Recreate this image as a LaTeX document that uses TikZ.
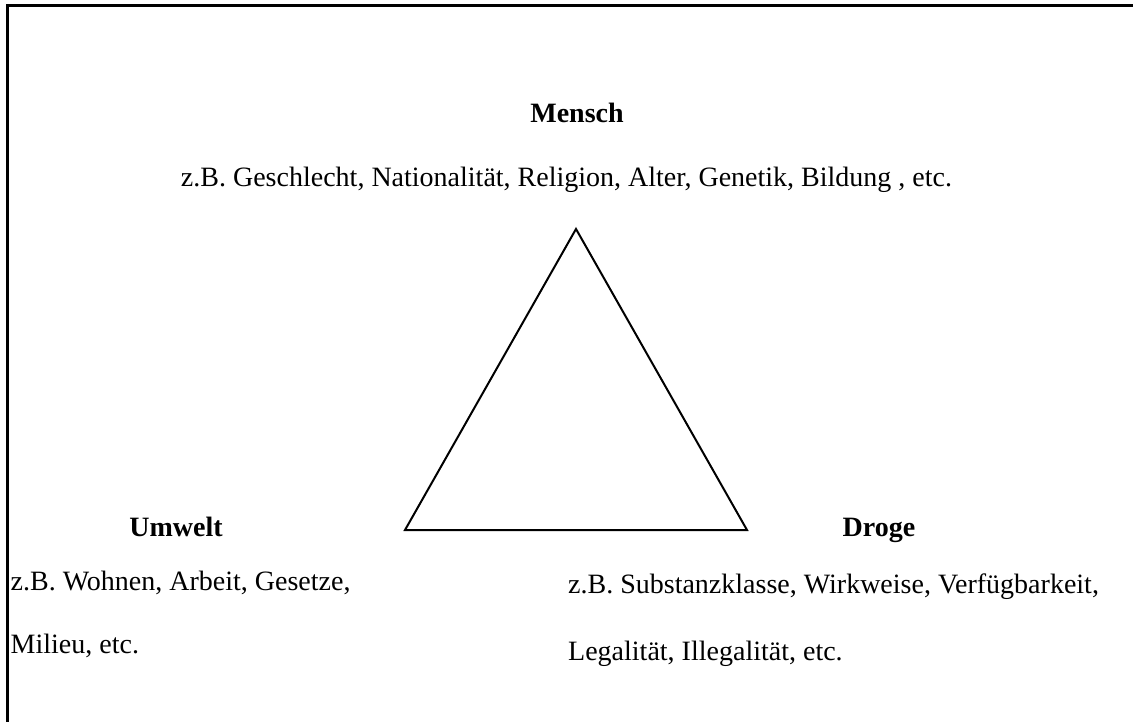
\documentclass[tikz,border=0pt]{standalone}
\usepackage{fontspec}
\setmainfont{Liberation Serif}
\begin{document}
\begin{tikzpicture}[x=1pt,y=-1pt,
  txt/.style={inner sep=0pt,font=\fontsize{28}{34}\selectfont},
  head/.style={txt,font=\fontsize{28}{34}\selectfont\bfseries,anchor=base},
  body/.style={txt,anchor=base west}]
\useasboundingbox (0,0) rectangle (1133,722);
% frame (only top and left edges visible)
\draw[line width=3pt] (7.5,722) -- (7.5,6) -- (1133,6);
% triangle
\coordinate (top) at (576,229);
\coordinate (bl) at (405,530);
\coordinate (br) at (747,530);
\draw[line width=2pt,line join=miter] (top) -- (br) -- (bl) -- cycle;
% texts
\node[head] (mensch) at (577,123) {Mensch};
\node[txt,anchor=base] (menschtxt) at (566.5,187) {z.B. Geschlecht, Nationalität, Religion, Alter, Genetik, Bildung , etc.};
\node[head] (umwelt) at (176,536) {Umwelt};
\node[body] (umwelt1) at (10.5,590) {z.B. Wohnen, Arbeit, Gesetze,};
\node[body] (umwelt2) at (10.5,653) {Milieu, etc.};
\node[head] (droge) at (879,536) {Droge};
\node[body] (droge1) at (568,593) {z.B. Substanzklasse, Wirkweise, Verfügbarkeit,};
\node[body] (droge2) at (568,660) {Legalität, Illegalität, etc.};
\end{tikzpicture}
\end{document}
